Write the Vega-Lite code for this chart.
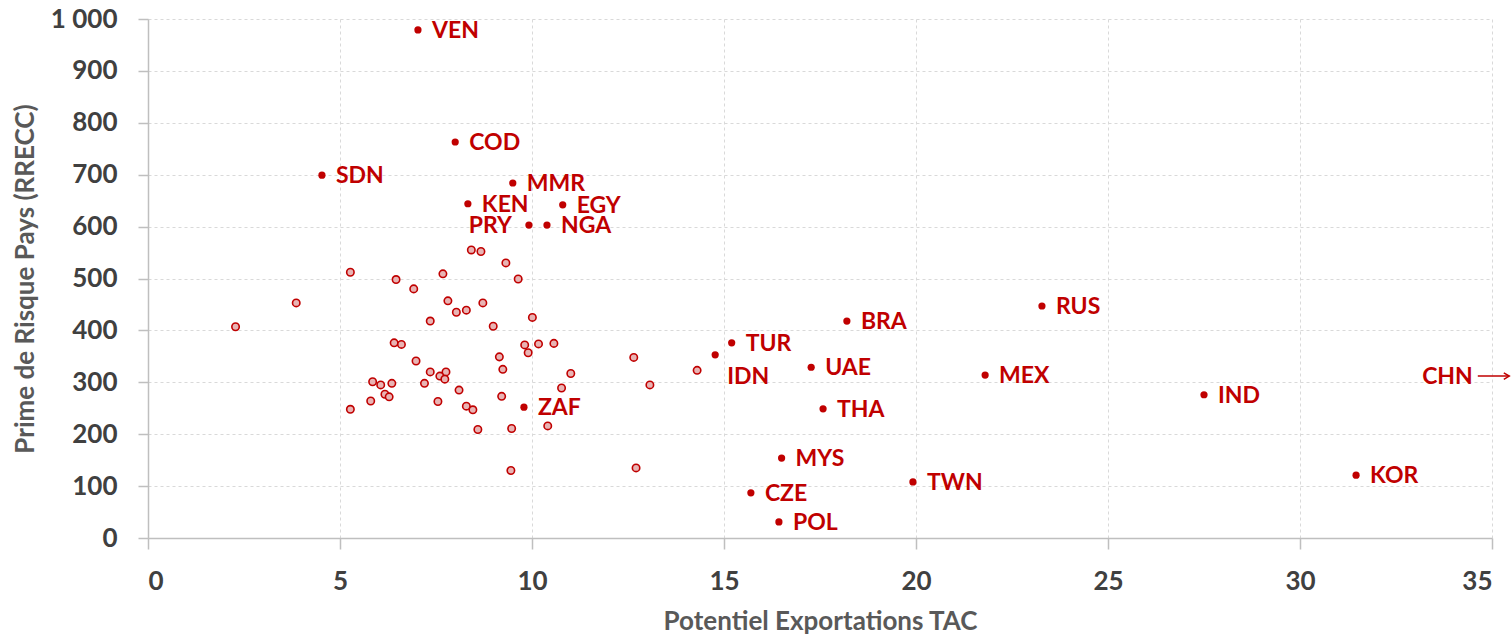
{
  "$schema": "https://vega.github.io/schema/vega-lite/v6.json",
  "width": 1344,
  "height": 519,
  "autosize": {"type": "none"},
  "padding": {"left": 148, "top": 19, "right": 20, "bottom": 97},
  "background": "white",
  "config": {
    "view": {"stroke": null},
    "font": "Lato",
    "axis": {
      "labelFont": "Lato", "labelFontWeight": "bold", "labelFontSize": 26, "labelColor": "#404040",
      "titleFont": "Lato", "titleFontWeight": "bold", "titleFontSize": 26, "titleColor": "#595959",
      "domainColor": "#bfbfbf", "domainWidth": 1.5, "tickColor": "#bfbfbf", "tickWidth": 1.5,
      "gridColor": "#d9d9d9", "gridDash": [3, 3], "gridWidth": 1
    }
  },
  "datasets": {
    "labelled": [
      {"pays": "VEN", "tac": 7.03, "prime": 979},
      {"pays": "COD", "tac": 8.0, "prime": 763},
      {"pays": "SDN", "tac": 4.53, "prime": 699},
      {"pays": "MMR", "tac": 9.5, "prime": 684},
      {"pays": "KEN", "tac": 8.33, "prime": 644},
      {"pays": "EGY", "tac": 10.8, "prime": 642},
      {"pays": "PRY", "tac": 9.92, "prime": 603},
      {"pays": "NGA", "tac": 10.39, "prime": 603},
      {"pays": "ZAF", "tac": 9.79, "prime": 252},
      {"pays": "IDN", "tac": 14.77, "prime": 353},
      {"pays": "TUR", "tac": 15.2, "prime": 376},
      {"pays": "UAE", "tac": 17.27, "prime": 329},
      {"pays": "BRA", "tac": 18.2, "prime": 418},
      {"pays": "THA", "tac": 17.58, "prime": 249},
      {"pays": "MYS", "tac": 16.5, "prime": 154},
      {"pays": "CZE", "tac": 15.7, "prime": 87},
      {"pays": "POL", "tac": 16.43, "prime": 31},
      {"pays": "TWN", "tac": 19.92, "prime": 108},
      {"pays": "RUS", "tac": 23.28, "prime": 447},
      {"pays": "MEX", "tac": 21.8, "prime": 314},
      {"pays": "IND", "tac": 27.5, "prime": 276},
      {"pays": "KOR", "tac": 31.46, "prime": 121}
    ],
    "others": [
      {"tac": 8.42, "prime": 555}, {"tac": 8.67, "prime": 552}, {"tac": 9.32, "prime": 530},
      {"tac": 5.27, "prime": 512}, {"tac": 7.68, "prime": 509}, {"tac": 6.46, "prime": 498},
      {"tac": 9.64, "prime": 499}, {"tac": 6.92, "prime": 480}, {"tac": 3.86, "prime": 453},
      {"tac": 7.81, "prime": 457}, {"tac": 8.72, "prime": 453}, {"tac": 8.03, "prime": 435},
      {"tac": 8.29, "prime": 439}, {"tac": 10.01, "prime": 425}, {"tac": 2.28, "prime": 407},
      {"tac": 7.35, "prime": 418}, {"tac": 8.99, "prime": 408}, {"tac": 6.41, "prime": 376},
      {"tac": 6.6, "prime": 373}, {"tac": 9.81, "prime": 372}, {"tac": 10.17, "prime": 374},
      {"tac": 10.57, "prime": 375}, {"tac": 9.9, "prime": 357}, {"tac": 9.15, "prime": 349},
      {"tac": 6.98, "prime": 341}, {"tac": 9.24, "prime": 325}, {"tac": 7.35, "prime": 320},
      {"tac": 7.76, "prime": 320}, {"tac": 7.6, "prime": 312}, {"tac": 7.73, "prime": 306},
      {"tac": 11.01, "prime": 317}, {"tac": 5.85, "prime": 301}, {"tac": 6.06, "prime": 295},
      {"tac": 6.35, "prime": 298}, {"tac": 7.2, "prime": 298}, {"tac": 10.77, "prime": 289},
      {"tac": 6.17, "prime": 277}, {"tac": 6.28, "prime": 272}, {"tac": 8.1, "prime": 285},
      {"tac": 9.21, "prime": 273}, {"tac": 5.8, "prime": 264}, {"tac": 7.55, "prime": 263},
      {"tac": 8.29, "prime": 254}, {"tac": 8.46, "prime": 247}, {"tac": 5.27, "prime": 248},
      {"tac": 10.41, "prime": 216}, {"tac": 8.59, "prime": 209}, {"tac": 9.47, "prime": 211},
      {"tac": 9.45, "prime": 130}, {"tac": 12.65, "prime": 348}, {"tac": 13.07, "prime": 295},
      {"tac": 14.3, "prime": 323}, {"tac": 12.71, "prime": 135}
    ],
    "offchart": [
      {"pays": "CHN", "tac": 34.5, "tac_start": 34.63, "tac_end": 35.45, "prime": 312}
    ]
  },
  "layer": [
    {
      "data": {"name": "others"},
      "mark": {"type": "point", "filled": true, "fill": "#e8b4b4", "stroke": "#c00000", "strokeWidth": 1.6, "size": 55, "opacity": 1},
      "encoding": {
        "x": {
          "field": "tac", "type": "quantitative",
          "scale": {"domain": [0, 35], "nice": false},
          "axis": {"values": [0, 5, 10, 15, 20, 25, 30, 35], "title": "Potentiel Exportations TAC", "tickSize": 11, "labelPadding": 19, "titlePadding": 14}
        },
        "y": {
          "field": "prime", "type": "quantitative",
          "scale": {"domain": [0, 1000], "nice": false},
          "axis": {"values": [0, 100, 200, 300, 400, 500, 600, 700, 800, 900, 1000], "title": "Prime de Risque Pays (RRECC)", "tickSize": 10, "labelPadding": 21, "titlePadding": 12,
            "labelExpr": "replace(format(datum.value, ','), ',', ' ')"}
        }
      }
    },
    {
      "data": {"name": "labelled"},
      "mark": {"type": "point", "filled": true, "color": "#c00000", "size": 52, "opacity": 1},
      "encoding": {
        "x": {"field": "tac", "type": "quantitative"},
        "y": {"field": "prime", "type": "quantitative"}
      }
    },
    {
      "data": {"name": "labelled"},
      "transform": [{"filter": "datum.pays != 'PRY' && datum.pays != 'IDN'"}],
      "mark": {"type": "text", "align": "left", "baseline": "middle", "dx": 14, "dy": 1, "font": "Lato", "fontWeight": "bold", "fontSize": 23, "color": "#c00000"},
      "encoding": {
        "x": {"field": "tac", "type": "quantitative"},
        "y": {"field": "prime", "type": "quantitative"},
        "text": {"field": "pays"}
      }
    },
    {
      "data": {"name": "labelled"},
      "transform": [{"filter": "datum.pays == 'PRY'"}],
      "mark": {"type": "text", "align": "right", "baseline": "middle", "dx": -17, "dy": 1, "font": "Lato", "fontWeight": "bold", "fontSize": 23, "color": "#c00000"},
      "encoding": {
        "x": {"field": "tac", "type": "quantitative"},
        "y": {"field": "prime", "type": "quantitative"},
        "text": {"field": "pays"}
      }
    },
    {
      "data": {"name": "labelled"},
      "transform": [{"filter": "datum.pays == 'IDN'"}],
      "mark": {"type": "text", "align": "left", "baseline": "middle", "dx": 12, "dy": 22, "font": "Lato", "fontWeight": "bold", "fontSize": 23, "color": "#c00000"},
      "encoding": {
        "x": {"field": "tac", "type": "quantitative"},
        "y": {"field": "prime", "type": "quantitative"},
        "text": {"field": "pays"}
      }
    },
    {
      "data": {"name": "offchart"},
      "mark": {"type": "text", "align": "right", "baseline": "middle", "dy": 1, "font": "Lato", "fontWeight": "bold", "fontSize": 23, "color": "#c00000"},
      "encoding": {
        "x": {"field": "tac", "type": "quantitative"},
        "y": {"field": "prime", "type": "quantitative"},
        "text": {"field": "pays"}
      }
    },
    {
      "data": {"name": "offchart"},
      "mark": {"type": "rule", "color": "#c00000", "strokeWidth": 1.5},
      "encoding": {
        "x": {"field": "tac_start", "type": "quantitative"},
        "x2": {"field": "tac_end"},
        "y": {"field": "prime", "type": "quantitative"}
      }
    },
    {
      "data": {"name": "offchart"},
      "mark": {"type": "point", "shape": "M-1,-0.6L0,0L-1,0.6", "filled": false, "stroke": "#c00000", "strokeWidth": 1.5, "size": 120, "opacity": 1},
      "encoding": {
        "x": {"field": "tac_end", "type": "quantitative"},
        "y": {"field": "prime", "type": "quantitative"}
      }
    }
  ]
}
